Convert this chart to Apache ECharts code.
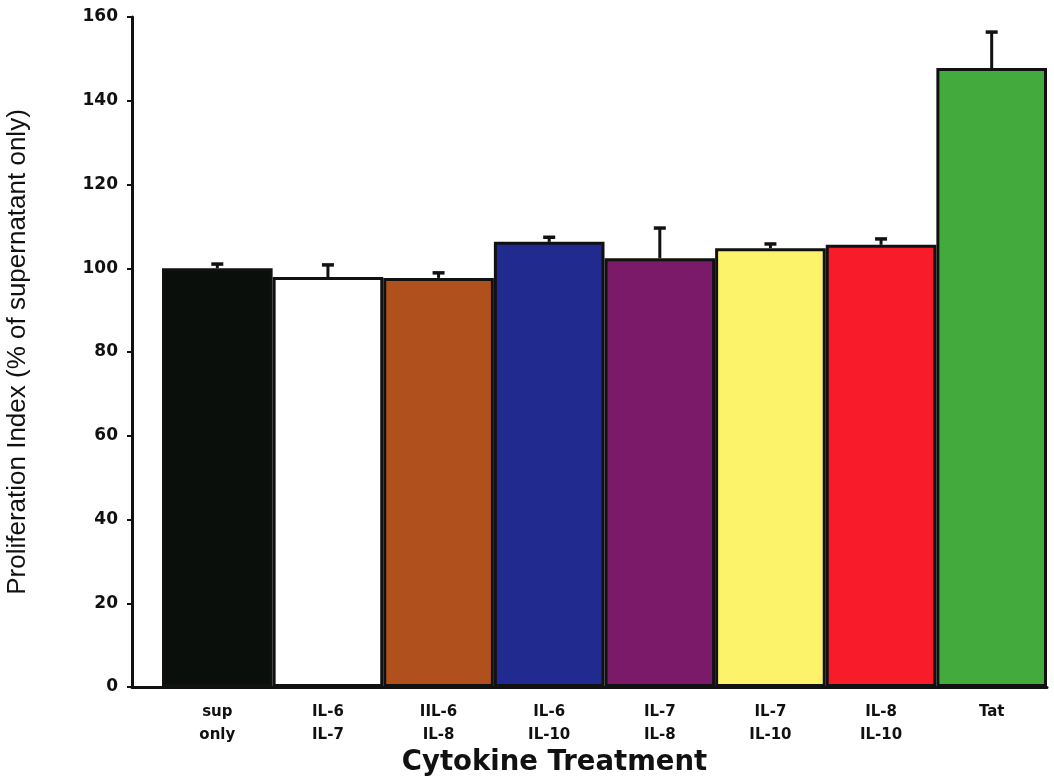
<!DOCTYPE html>
<html>
<head>
<meta charset="utf-8">
<style>html,body{margin:0;padding:0;background:#fff;}#c{width:1054px;height:778px;}</style>
<script src="https://cdn.jsdelivr.net/npm/echarts@6/dist/echarts.min.js"></script>
</head>
<body>
<div id="c"></div>
<script>
const categories = ['sup\nonly', 'IL-6\nIL-7', 'IIL-6\nIL-8', 'IL-6\nIL-10', 'IL-7\nIL-8', 'IL-7\nIL-10', 'IL-8\nIL-10', 'Tat'];
const values = [100.0, 97.9, 97.7, 106.3, 102.4, 104.8, 105.6, 147.8];
const errorTops = [101.0, 100.8, 98.9, 107.4, 109.6, 105.8, 107.0, 156.4];
const barColors = ['#0b0f0b', '#ffffff', '#b0501c', '#212a8e', '#7a1a68', '#fdf36a', '#f81c2b', '#43ab3d'];
const yTicks = [0, 20, 40, 60, 80, 100, 120, 140, 160];

const chart = echarts.init(document.getElementById('c'));
const ink = '#111111';
chart.setOption({
  animation: false,
  backgroundColor: '#ffffff',
  grid: [
    {left: 162, right: 7, top: 17, bottom: 91, containLabel: false, outerBoundsMode: 'none'},
    {left: 132, right: 7, top: 17, bottom: 91, containLabel: false, outerBoundsMode: 'none'}
  ],
  xAxis: [
    {
      type: 'category', gridIndex: 0, data: categories,
      axisLine: {show: false}, axisTick: {show: false},
      axisLabel: {color: ink, fontFamily: 'DejaVu Sans', fontWeight: 'bold', fontSize: 15, lineHeight: 23, margin: 14}
    },
    {
      type: 'value', gridIndex: 1, min: 0, max: 1,
      axisLine: {show: true, lineStyle: {color: ink, width: 3}},
      axisTick: {show: false}, axisLabel: {show: false}, splitLine: {show: false},
      name: 'Cytokine Treatment', nameLocation: 'middle', nameGap: 62,
      nameTextStyle: {color: ink, fontFamily: 'DejaVu Sans', fontWeight: 'bold', fontSize: 27.5, padding: [0, 70, 0, 0]}
    }
  ],
  yAxis: [
    {type: 'value', gridIndex: 0, min: yTicks[0], max: yTicks[yTicks.length - 1], interval: 20, show: false},
    {
      type: 'value', gridIndex: 1, min: yTicks[0], max: yTicks[yTicks.length - 1], interval: 20,
      axisLine: {show: true, lineStyle: {color: ink, width: 3}},
      axisTick: {show: true, length: 5, lineStyle: {color: ink, width: 2}},
      axisLabel: {color: ink, fontFamily: 'DejaVu Sans', fontWeight: 'bold', fontSize: 17, margin: 14},
      splitLine: {show: false},
      name: 'Proliferation Index (% of supernatant only)', nameLocation: 'middle', nameGap: 101,
      nameTextStyle: {color: ink, fontFamily: 'Liberation Sans, Arial', fontSize: 26}
    }
  ],
  series: [
    {
      type: 'bar', xAxisIndex: 0, yAxisIndex: 0,
      barCategoryGap: 0,
      data: values.map((v, i) => ({value: v, itemStyle: {color: barColors[i]}})),
      itemStyle: {borderColor: ink, borderWidth: 3},
      z: 2
    },
    {
      type: 'custom', xAxisIndex: 0, yAxisIndex: 0, z: 3,
      data: values.map((v, i) => [i, v, errorTops[i]]),
      renderItem: function (params, api) {
        const base = api.coord([api.value(0), api.value(1)]);
        const top = api.coord([api.value(0), api.value(2)]);
        const half = 6;
        return {
          type: 'group',
          children: [
            {type: 'line', shape: {x1: base[0], y1: base[1], x2: top[0], y2: top[1]}, style: {stroke: ink, lineWidth: 3}},
            {type: 'line', shape: {x1: top[0] - half, y1: top[1], x2: top[0] + half, y2: top[1]}, style: {stroke: ink, lineWidth: 3.5}}
          ]
        };
      }
    }
  ]
});
</script>
</body>
</html>
